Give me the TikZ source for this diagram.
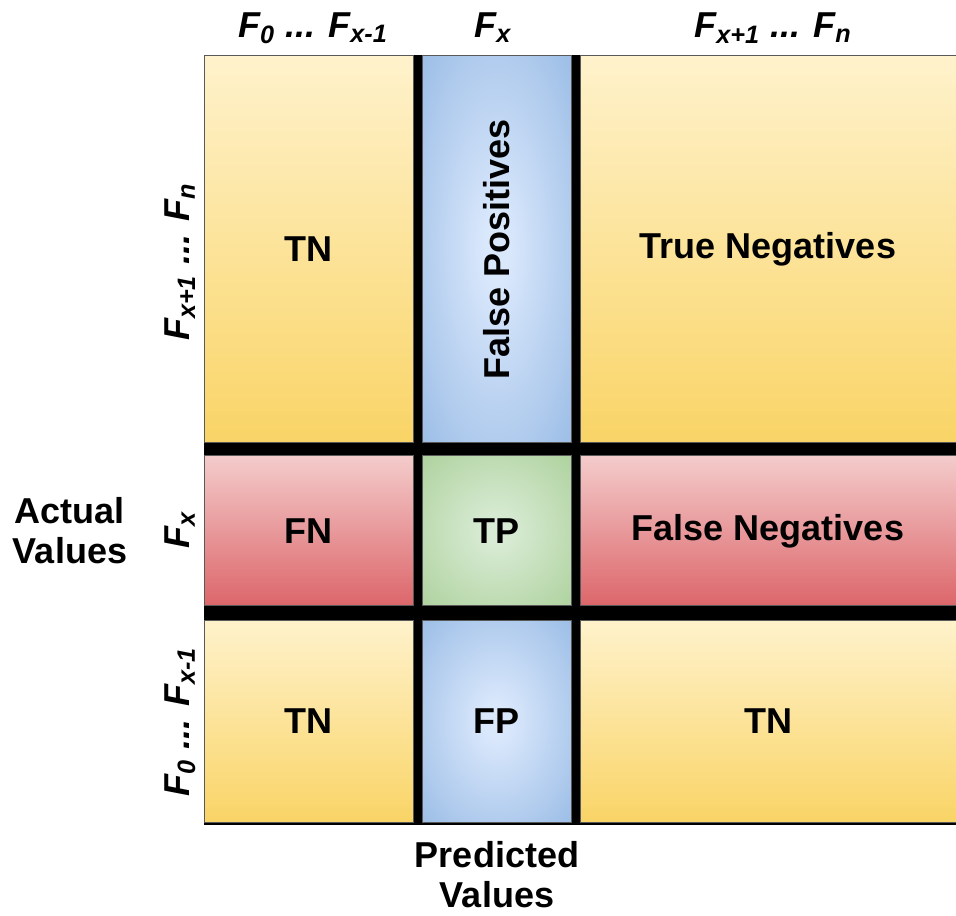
\documentclass[tikz,border=0pt]{standalone}
\usepackage{fontspec}
\setmainfont{Liberation Sans}
\usepackage{xcolor}
\definecolor{yeltop}{HTML}{FFF2CC}
\definecolor{yelbot}{HTML}{F9D466}
\definecolor{redtop}{HTML}{F4CBCB}
\definecolor{redbot}{HTML}{DC666A}
\definecolor{bluein}{HTML}{DAE8FC}
\definecolor{blueout}{HTML}{74A2D8}
\definecolor{greenin}{HTML}{D8EBD4}
\definecolor{greenout}{HTML}{94C27C}
\pgfdeclareradialshading{softblue}{\pgfpoint{0bp}{0bp}}{color(0bp)=(bluein); color(4bp)=(bluein); color(56bp)=(blueout); color(71bp)=(blueout)}
\pgfdeclareradialshading{softgreen}{\pgfpoint{0bp}{0bp}}{color(0bp)=(greenin); color(4bp)=(greenin); color(56bp)=(greenout); color(71bp)=(greenout)}

\begin{document}
\begin{tikzpicture}[
    x=0.5pt, y=0.5pt,
    every node/.style={font=\fontsize{18}{20}\selectfont\bfseries, inner sep=0pt, outer sep=0pt},
    cell/.style={rectangle, draw=black!65, line width=0.5pt},
    yelcell/.style={cell, top color=yeltop, bottom color=yelbot},
    redcell/.style={cell, top color=redtop, bottom color=redbot},
    bluecell/.style={cell, shade, shading=softblue},
    greencell/.style={cell, shade, shading=softgreen},
    flbl/.style={font=\fontsize{18}{20}\selectfont\bfseries\itshape},
    axislbl/.style={align=center}
]
    \useasboundingbox (0,0) rectangle (956,915);
    % black grid behind the cells
    \fill[black] (203.5,90) rectangle (956,859.5);

    % row 1
    \node[yelcell, minimum width=104.5pt, minimum height=193.5pt] (tnA) at (308.5,665.5) {TN};
    \node[bluecell, minimum width=74.5pt, minimum height=193.5pt] (fpA) at (496.5,665.5) {};
    \node[rotate=90] (fpAtxt) at (fpA.center) {False Positives};
    \node[yelcell, minimum width=188pt, minimum height=193.5pt] (tnB) at (768,665.5) {True Negatives};

    % row 2
    \node[redcell, minimum width=104.5pt, minimum height=75pt] (fnA) at (308.5,384) {FN};
    \node[greencell, minimum width=74.5pt, minimum height=75pt] (tp) at (496.5,384) {TP};
    \node[redcell, minimum width=188pt, minimum height=75pt] (fnB) at (768,384) {False Negatives};

    % row 3
    \node[yelcell, minimum width=104.5pt, minimum height=101pt] (tnC) at (308.5,194) {TN};
    \node[bluecell, minimum width=74.5pt, minimum height=101pt] (fpB) at (496.5,194) {FP};
    \node[yelcell, minimum width=188pt, minimum height=101pt] (tnD) at (768,194) {TN};

    % column headers
    \node[flbl] (hd1) at (313,887) {F\textsubscript{0} ... F\textsubscript{x-1}};
    \node[flbl] (hd2) at (493,887) {F\textsubscript{x}};
    \node[flbl] (hd3) at (773,887) {F\textsubscript{x+1} ... F\textsubscript{n}};

    % row headers
    \node[flbl, rotate=90] (rw1) at (180,653) {F\textsubscript{x+1} ... F\textsubscript{n}};
    \node[flbl, rotate=90] (rw2) at (180,385) {F\textsubscript{x}};
    \node[flbl, rotate=90] (rw3) at (180,193) {F\textsubscript{0} ... F\textsubscript{x-1}};

    \node[axislbl] (actual) at (70,384) {Actual\\Values};
    \node[axislbl] (predicted) at (497,40) {Predicted\\Values};
\end{tikzpicture}
\end{document}
